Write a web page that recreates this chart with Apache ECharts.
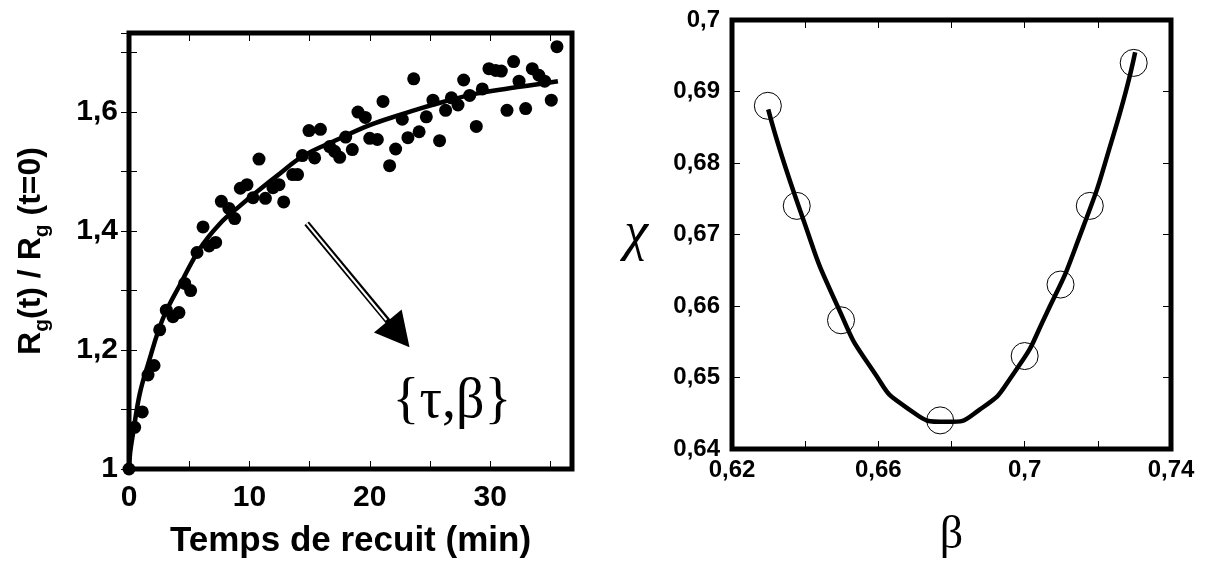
<!DOCTYPE html>
<html>
<head>
<meta charset="utf-8">
<script src="https://cdn.jsdelivr.net/npm/echarts@6.0.0/dist/echarts.min.js"></script>
<style>
  html, body { margin: 0; padding: 0; background: #fff; }
  #chart { width: 1205px; height: 564px; }
</style>
</head>
<body>
<div id="chart"></div>
<script>
// left panel: R_g(t)/R_g(0) vs annealing time (min)
var annealTime = [0, 0.47, 1.1, 1.58, 2.08, 2.55, 3.1, 3.65, 4.15, 4.63, 5.12, 5.65, 6.15, 6.65, 7.2, 7.67,
  8.3, 8.78, 9.25, 9.8, 10.3, 10.8, 11.33, 11.96, 12.46, 12.85, 13.6, 14.0, 14.4, 14.95, 15.42, 15.9,
  16.67, 17.08, 17.5, 18.0, 18.55, 19.02, 19.63, 20.0, 20.63, 21.1, 21.65, 22.15, 22.7, 23.17, 23.65,
  24.1, 24.7, 25.25, 25.8, 26.3, 26.78, 27.33, 27.8, 28.3, 28.85, 29.35, 29.9, 30.46, 30.93, 31.4,
  31.95, 32.4, 32.95, 33.5, 34.05, 34.53, 35.08, 35.55];
var rgRatio = [1.0, 1.07, 1.096, 1.158, 1.174, 1.234, 1.267, 1.256, 1.263, 1.312, 1.30, 1.364, 1.407, 1.375, 1.381, 1.45,
  1.438, 1.421, 1.472, 1.478, 1.456, 1.521, 1.455, 1.473, 1.478, 1.449, 1.495, 1.495, 1.527, 1.569, 1.523, 1.571,
  1.542, 1.534, 1.524, 1.558, 1.537, 1.6, 1.591, 1.556, 1.554, 1.618, 1.51, 1.538, 1.588, 1.557, 1.656,
  1.567, 1.592, 1.62, 1.552, 1.603, 1.624, 1.612, 1.654, 1.628, 1.576, 1.639, 1.673, 1.67, 1.669, 1.603,
  1.685, 1.652, 1.606, 1.673, 1.662, 1.652, 1.62, 1.71];
// fitted curve (stretched exponential)
var fitTime = [0, 0.1, 0.33, 0.89, 1.58, 2.82, 4.35, 5.87, 7.53, 9.19, 10.86, 12.24, 14.45, 17.23, 19.99,
  22.76, 24.15, 26.08, 28.85, 31.6, 34.4, 35.63];
var fitRatio = [1.0, 1.028, 1.059, 1.126, 1.176, 1.253, 1.314, 1.37, 1.412, 1.442, 1.47, 1.492, 1.526, 1.553, 1.578,
  1.597, 1.606, 1.617, 1.631, 1.64, 1.648, 1.652];

// right panel: chi vs beta
var betaPts = [0.6298, 0.6377, 0.6498, 0.6769, 0.700, 0.7098, 0.7178, 0.7298];
var chiPts = [0.688, 0.674, 0.658, 0.644, 0.653, 0.663, 0.674, 0.694];
var betaCurve = [0.6299, 0.6386, 0.649, 0.6586, 0.6677, 0.6787, 0.6877, 0.6969, 0.706, 0.715, 0.7242, 0.7302];
var chiCurve = [0.6875, 0.6734, 0.6598, 0.6509, 0.6458, 0.6438, 0.6455, 0.6505, 0.659, 0.6697, 0.6838, 0.6955];

// arrow from the fit to {tau, beta}
var arrowFrom = [14.76, 1.413];
var arrowTo = [22.4, 1.2267];
var arrowInnerTo = [21.38, 1.2505];

function pairs(xs, ys) {
  return xs.map(function (x, i) { return [x, ys[i]]; });
}
function comma(v, d) {
  return String(+v.toFixed(d)).replace('.', ',');
}

var sans = '"Liberation Sans", Arial, sans-serif';
var serif = '"Liberation Serif", "Times New Roman", serif';

var tickIn = { show: true, inside: true, length: 8, lineStyle: { color: '#000', width: 1 } };
var hiddenAxis = {
  axisLine: { show: false },
  axisLabel: { show: false },
  axisTick: tickIn,
  splitLine: { show: false }
};

var myChart = echarts.init(document.getElementById('chart'));
myChart.setOption({
  animation: false,
  backgroundColor: '#fff',
  grid: [
    { left: 129, top: 33, width: 443, height: 439, show: true, borderWidth: 5, borderColor: '#000', backgroundColor: 'transparent' },
    { left: 732, top: 20, width: 439, height: 433, show: true, borderWidth: 5, borderColor: '#000', backgroundColor: 'transparent' }
  ],
  xAxis: [
    {
      gridIndex: 0, type: 'value', min: 0, max: 36.8, interval: 5,
      axisLine: { show: false },
      axisTick: tickIn,
      splitLine: { show: false },
      axisLabel: {
        margin: 14, color: '#000', fontFamily: sans, fontWeight: 'bold', fontSize: 30,
        formatter: function (v) { return Math.abs(v % 10) < 1e-6 ? String(v) : ''; }
      },
      name: 'Temps de recuit (min)', nameLocation: 'middle', nameGap: 55,
      nameTextStyle: { color: '#000', fontFamily: sans, fontWeight: 'bold', fontSize: 35 }
    },
    Object.assign({ gridIndex: 0, type: 'value', position: 'top', min: 0, max: 36.8, interval: 5 }, hiddenAxis),
    {
      gridIndex: 1, type: 'value', min: 0.62, max: 0.74, interval: 0.02,
      axisLine: { show: false },
      axisTick: tickIn,
      splitLine: { show: false },
      axisLabel: {
        margin: 9, color: '#000', fontFamily: sans, fontWeight: 'bold', fontSize: 24,
        formatter: function (v) { return Math.round(v * 100) % 4 === 2 ? comma(v, 2) : ''; }
      },
      name: 'β', nameLocation: 'middle', nameGap: 64,
      nameTextStyle: { color: '#000', fontFamily: serif, fontSize: 46 }
    },
    Object.assign({ gridIndex: 1, type: 'value', position: 'top', min: 0.62, max: 0.74, interval: 0.02 }, hiddenAxis)
  ],
  yAxis: [
    {
      gridIndex: 0, type: 'value', min: 1, max: 1.733, interval: 0.1,
      axisLine: { show: false },
      axisTick: tickIn,
      splitLine: { show: false },
      axisLabel: {
        margin: 11, color: '#000', fontFamily: sans, fontWeight: 'bold', fontSize: 30,
        formatter: function (v) {
          var k = v * 10;
          if (Math.abs(k - Math.round(k)) > 1e-6 || Math.round(k) % 2 !== 0) return '';
          return comma(v, 1);
        }
      },
      name: '{m|R}{s|g}{m|(t) / R}{s|g}{m| (t=0)}', nameLocation: 'middle', nameGap: 76, nameRotate: 90,
      nameTextStyle: {
        color: '#000',
        rich: {
          m: { fontFamily: sans, fontWeight: 'bold', fontSize: 32, color: '#000' },
          s: { fontFamily: sans, fontWeight: 'bold', fontSize: 21, color: '#000', padding: [22, 0, 0, 0] }
        }
      }
    },
    Object.assign({ gridIndex: 0, type: 'value', position: 'right', min: 1, max: 1.733, interval: 0.1 }, hiddenAxis),
    {
      gridIndex: 1, type: 'value', min: 0.64, max: 0.70, interval: 0.01,
      axisLine: { show: false },
      axisTick: tickIn,
      splitLine: { show: false },
      axisLabel: {
        margin: 12, color: '#000', fontFamily: sans, fontWeight: 'bold', fontSize: 24,
        formatter: function (v) { return comma(v, 2); }
      },
      name: 'χ', nameLocation: 'middle', nameGap: 84, nameRotate: 0,
      nameTextStyle: { color: '#000', fontFamily: serif, fontStyle: 'italic', fontSize: 54 }
    },
    Object.assign({ gridIndex: 1, type: 'value', position: 'right', min: 0.64, max: 0.70, interval: 0.01 }, hiddenAxis)
  ],
  graphic: [
    {
      type: 'text', x: 452, y: 402, silent: true,
      style: { text: '{τ,β}', fontFamily: serif, fontSize: 56, fill: '#000', align: 'center', verticalAlign: 'middle' }
    }
  ],
  series: [
    {
      name: 'mesures', type: 'scatter', xAxisIndex: 0, yAxisIndex: 0,
      data: pairs(annealTime, rgRatio),
      symbol: 'circle', symbolSize: 13, clip: false,
      itemStyle: { color: '#000', opacity: 1 },
      markLine: {
        silent: true, animation: false, z: 5,
        label: { show: false },
        symbol: ['none', 'triangle'],
        symbolSize: [36, 34],
        lineStyle: { color: '#000', width: 6, type: 'solid' },
        data: [[{ coord: arrowFrom }, { coord: arrowTo }]]
      }
    },
    {
      name: 'ajustement', type: 'line', xAxisIndex: 0, yAxisIndex: 0,
      data: pairs(fitTime, fitRatio),
      smooth: 0.4, showSymbol: false, clip: false,
      lineStyle: { color: '#000', width: 4.5 },
      markLine: {
        silent: true, animation: false, z: 6,
        label: { show: false },
        symbol: ['none', 'none'],
        lineStyle: { color: '#fff', width: 2, type: 'solid' },
        data: [[{ coord: arrowFrom }, { coord: arrowInnerTo }]]
      }
    },
    {
      name: 'chi', type: 'scatter', xAxisIndex: 2, yAxisIndex: 2,
      data: pairs(betaPts, chiPts),
      symbol: 'circle', symbolSize: 27, clip: false,
      itemStyle: { color: 'transparent', borderColor: '#000', borderWidth: 1, opacity: 1 }
    },
    {
      name: 'chi fit', type: 'line', xAxisIndex: 2, yAxisIndex: 2,
      data: pairs(betaCurve, chiCurve),
      smooth: 0.6, showSymbol: false, clip: false,
      lineStyle: { color: '#000', width: 4.5 }
    }
  ]
});
</script>
</body>
</html>
